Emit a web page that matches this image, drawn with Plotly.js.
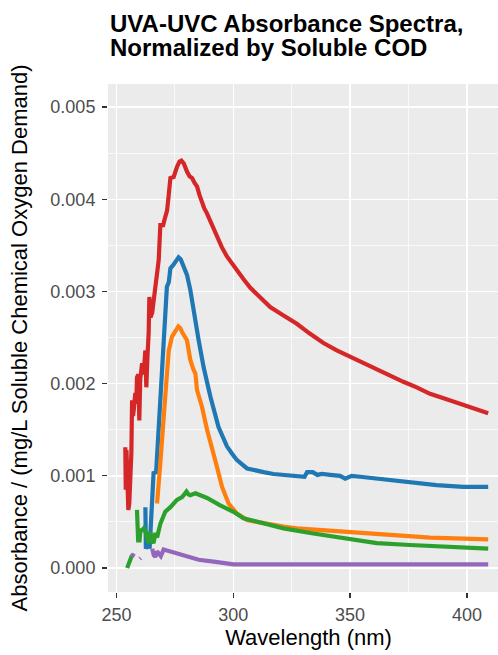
<!DOCTYPE html>
<html>
<head>
<meta charset="utf-8">
<script src="https://cdn.plot.ly/plotly-3.0.1.min.js"></script>
<style>
  html, body { margin: 0; padding: 0; overflow: hidden; background: #ffffff; }
  #chart { width: 520px; height: 655px; }
</style>
</head>
<body>
<div id="chart"></div>
<script>
// Absorbance spectra (per mg/L soluble COD) for five samples, wavelength in nm.
// null entries mark wavelengths with no valid reading (breaks in the line).

const wlA = [262.4, 262.6, 263.2, 263.8, 264.2, 264.6, 265.0, 265.5, 265.9, 267.0, 268.1, 269.5, 270.9, 271.6, 272.4, 273.1, 274.1, 275.2, 276.6, 277.5, 278.8, 280.2, 281.6, 283.0, 284.5, 285.2, 287.3, 290.2, 293.7, 297.3, 299.5, 301.6, 305.9, 310.0, 313.0, 317.2, 324.4, 330.5, 331.6, 334.0, 336.0, 337.9, 341.5, 345.7, 347.9, 350.7, 354.3, 361.4, 370.0, 378.5, 387.0, 398.4, 409.1];
const absA = [0.00066, 0.00021, 0.00024, 0.00030, 0.00021, 0.00045, 0.00063, 0.00085, 0.00103, 0.00104, 0.00150, 0.00204, 0.00258, 0.00305, 0.00310, 0.00325, 0.00328, 0.00332, 0.00337, 0.00335, 0.00327, 0.00318, 0.00302, 0.00283, 0.00258, 0.00247, 0.00218, 0.00186, 0.00153, 0.00132, 0.00124, 0.00117, 0.00108, 0.00105, 0.00104, 0.00102, 0.00100, 0.00099, 0.00104, 0.00104, 0.00101, 0.00102, 0.00101, 0.00100, 0.00097, 0.00100, 0.00099, 0.00097, 0.00094, 0.00092, 0.00090, 0.00088, 0.00088];

const wlB = [267.4, 268.1, 268.8, 270.9, 272.4, 273.8, 275.2, 276.5, 277.4, 278.1, 280.2, 281.6, 283.0, 283.8, 284.5, 286.6, 288.8, 290.9, 293.0, 295.2, 298.0, 301.6, 305.9, 310.0, 315.8, 321.5, 327.2, 338.6, 350.0, 361.4, 372.8, 384.2, 398.4, 409.1];
const absB = [0.00070, 0.00090, 0.00114, 0.00186, 0.00236, 0.00251, 0.00256, 0.00262, 0.00260, 0.00256, 0.00247, 0.00226, 0.00215, 0.00211, 0.00193, 0.00175, 0.00150, 0.00132, 0.00110, 0.00088, 0.00070, 0.00059, 0.00052, 0.00050, 0.00047, 0.00045, 0.00043, 0.00041, 0.00039, 0.00037, 0.00035, 0.00033, 0.00032, 0.00031];

const wlC = [254.6, 255.3, 256.0, 256.7, 257.5, 258.8, 259.0, 259.3, 259.9, 260.3, 261.0, 261.7, 262.4, 263.1, 263.8, 264.5, 265.2, 265.9, 266.7, 267.4, 268.1, 268.8, 270.9, 273.1, 275.9, 278.1, 279.4, 280.0, 280.8, 281.6, 283.8, 287.3, 288.8, 294.4, 300.1, 304.4, 313.0, 321.5, 332.9, 347.1, 361.4, 375.6, 389.9, 409.1];
const absC = [0.00000, 0.00005, 0.00009, 0.00014, null, 0.00063, 0.00045, 0.00030, 0.00030, 0.00041, 0.00041, 0.00043, 0.00040, 0.00035, 0.00027, 0.00039, 0.00030, 0.00027, 0.00038, 0.00033, 0.00042, 0.00048, 0.00061, 0.00066, 0.00074, 0.00077, 0.00081, 0.00083, 0.00080, 0.00079, 0.00081, 0.00077, 0.00076, 0.00068, 0.00061, 0.00054, 0.00048, 0.00043, 0.00038, 0.00032, 0.00027, 0.00025, 0.00023, 0.00021];

const wlD = [253.8, 254.0, 254.3, 254.7, 255.1, 255.5, 256.0, 256.4, 256.7, 257.1, 257.4, 258.1, 258.5, 258.8, 259.4, 259.8, 260.2, 261.0, 261.6, 262.4, 262.8, 263.3, 263.8, 264.1, 264.6, 265.3, 266.0, 266.7, 267.4, 268.1, 268.8, 270.0, 270.6, 271.7, 272.4, 273.1, 274.5, 275.2, 275.9, 277.0, 277.8, 278.8, 279.5, 280.2, 281.3, 282.4, 283.4, 284.5, 285.5, 286.6, 287.6, 288.7, 290.8, 293.0, 295.1, 297.3, 299.5, 301.6, 304.5, 307.3, 311.5, 315.8, 321.5, 327.2, 332.9, 338.6, 344.3, 350.0, 355.7, 361.4, 367.1, 372.8, 378.5, 384.2, 391.3, 398.4, 404.0, 409.1];
const absD = [0.00131, 0.00085, 0.00128, 0.00090, 0.00063, 0.00070, 0.00099, 0.00125, 0.00182, 0.00165, 0.00171, 0.00190, 0.00178, 0.00207, 0.00210, 0.00160, 0.00205, 0.00222, 0.00210, 0.00236, 0.00196, 0.00230, 0.00255, 0.00294, 0.00272, 0.00277, 0.00290, 0.00302, 0.00320, 0.00334, 0.00372, 0.00372, 0.00378, 0.00388, 0.00405, 0.00423, 0.00424, 0.00430, 0.00435, 0.00441, 0.00442, 0.00439, 0.00434, 0.00430, 0.00425, 0.00423, 0.00418, 0.00414, 0.00405, 0.00396, 0.00390, 0.00385, 0.00372, 0.00359, 0.00348, 0.00338, 0.00330, 0.00323, 0.00313, 0.00304, 0.00293, 0.00283, 0.00274, 0.00265, 0.00254, 0.00244, 0.00236, 0.00229, 0.00222, 0.00215, 0.00208, 0.00202, 0.00196, 0.00189, 0.00183, 0.00177, 0.00173, 0.00168];

const wlE = [256.7, 257.4, 258.5, 260.0, 260.4, 262.0, 265.3, 266.0, 266.7, 267.4, 268.1, 269.0, 270.2, 271.5, 273.8, 279.5, 285.2, 291.6, 300.1, 307.3, 330.0, 360.0, 409.1];
const absE = [0.00012, 0.00016, null, 0.00010, 0.00011, null, 0.00021, 0.00014, 0.00012, 0.00018, 0.00016, 0.00013, 0.00020, 0.00019, 0.00018, 0.00013, 0.00009, 0.00007, 0.00004, 0.00004, 0.00004, 0.00004, 0.00004];

const seriesNames = ['Sample A', 'Sample B', 'Sample C', 'Sample D', 'Sample E'];
const seriesX = [wlA, wlB, wlC, wlD, wlE];
const seriesY = [absA, absB, absC, absD, absE];
const seriesColors = ['#1f77b4', '#ff7f0e', '#2ca02c', '#d62728', '#9467bd'];

const traces = seriesNames.map((name, i) => ({
  type: 'scatter',
  mode: 'lines',
  name: name,
  x: seriesX[i],
  y: seriesY[i],
  connectgaps: false,
  line: { color: seriesColors[i], width: 4.2, shape: 'linear' },
  hoverinfo: 'x+y+name'
}));

const fontFamily = '"Liberation Sans", Arial, Helvetica, sans-serif';

const layout = {
  width: 520,
  height: 655,
  margin: { l: 108, r: 11, t: 84, b: 63, pad: 0 },
  paper_bgcolor: '#ffffff',
  plot_bgcolor: '#EBEBEB',
  showlegend: false,
  font: { family: fontFamily, color: '#000000' },
  xaxis: {
    range: [246.4, 418.0],
    tickmode: 'array',
    tickvals: [250, 300, 350, 400],
    ticktext: ['250', '300', '350', '400'],
    ticks: 'outside',
    ticklen: 5,
    tickwidth: 1.3,
    tickcolor: '#333333',
    ticklabelstandoff: 1,
    tickfont: { family: fontFamily, size: 18, color: '#4D4D4D' },
    showgrid: true,
    gridcolor: '#ffffff',
    gridwidth: 1.4,
    minor: { tickmode: 'array', tickvals: [275, 325, 375], showgrid: true, gridcolor: '#ffffff', gridwidth: 0.7, ticks: '' },
    zeroline: false,
    showline: false,
    title: { text: 'Wavelength (nm)', font: { family: fontFamily, size: 22, color: '#000000' }, standoff: 6 }
  },
  yaxis: {
    range: [-0.00026, 0.00525],
    tickmode: 'array',
    tickvals: [0, 0.001, 0.002, 0.003, 0.004, 0.005],
    ticktext: ['0.000', '0.001', '0.002', '0.003', '0.004', '0.005'],
    ticks: 'outside',
    ticklen: 5,
    tickwidth: 1.3,
    tickcolor: '#333333',
    ticklabelstandoff: 3,
    tickfont: { family: fontFamily, size: 18, color: '#4D4D4D' },
    showgrid: true,
    gridcolor: '#ffffff',
    gridwidth: 1.4,
    minor: { tickmode: 'array', tickvals: [0.0005, 0.0015, 0.0025, 0.0035, 0.0045], showgrid: true, gridcolor: '#ffffff', gridwidth: 0.7, ticks: '' },
    zeroline: false,
    showline: false,
    title: { text: 'Absorbance / (mg/L Soluble Chemical Oxygen Demand)', font: { family: fontFamily, size: 22, color: '#000000' }, standoff: 16 }
  },
  annotations: [
    {
      text: 'UVA-UVC Absorbance Spectra,',
      xref: 'paper', yref: 'paper', x: 0, y: 1.1191,
      xanchor: 'left', yanchor: 'middle', showarrow: false,
      font: { family: fontFamily, size: 24, color: '#000000', weight: 'bold' }
    },
    {
      text: 'Normalized by Soluble COD',
      xref: 'paper', yref: 'paper', x: 0, y: 1.0719,
      xanchor: 'left', yanchor: 'middle', showarrow: false,
      font: { family: fontFamily, size: 24, color: '#000000', weight: 'bold' }
    }
  ]
};

Plotly.newPlot('chart', traces, layout, { displayModeBar: false, staticPlot: true });
</script>
</body>
</html>
